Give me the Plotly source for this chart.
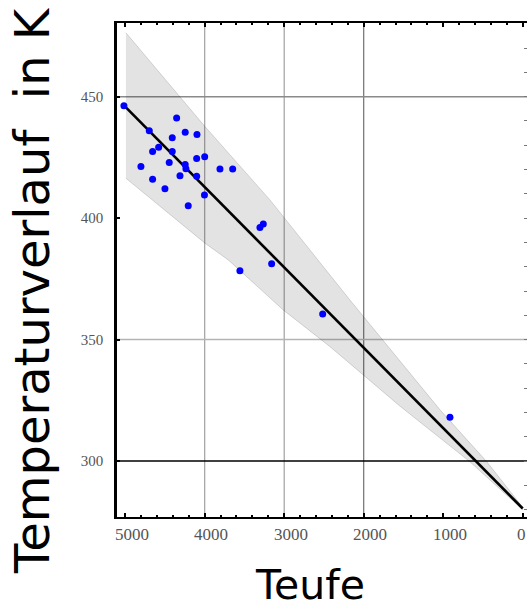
import plotly.graph_objects as go

# ---- data ----
depth_pts = [5016, 4353, 4697, 4245, 4097, 4408, 4579, 4655, 4408, 4802,
             4446, 4101, 4000, 4245, 4236, 3808, 3648, 4655, 4311, 4101,
             4500, 4003, 4207, 3263, 3305, 3158, 3557, 2516, 915]
temp_pts = [446.2, 441.2, 436.0, 435.3, 434.4, 433.1, 429.2, 427.4, 427.4, 421.2,
            422.9, 424.5, 425.3, 422.1, 420.3, 420.2, 420.2, 416.0, 417.4, 417.2,
            412.1, 409.5, 405.1, 397.6, 396.1, 381.2, 378.3, 360.5, 318.1]

fit_depth = [5016, 0]
fit_temp = [446.4, 280.5]

band_upper_depth = [4991, 3997, 3179, 2173, 1040, 453, 0]
band_upper = [476.3, 437.7, 407.5, 366.3, 321.1, 299.8, 281.0]
band_lower_depth = [4991, 3997, 3704, 3012, 2424, 1543, 667, 0]
band_lower = [416.4, 389.7, 382.8, 362.2, 347.1, 322.6, 299.8, 280.0]

x_ticks = [5000, 4000, 3000, 2000, 1000, 0]
y_ticks = [300, 350, 400, 450]
grid_depths = [4000, 3000, 2000]
grid_depth_colors = ["#a0a0a0", "#a0a0a0", "#707070"]
grid_temps = [450, 350, 300]
grid_temp_colors = ["#8a8a8a", "#b4b4b4", "#000000"]

x_title = "Teufe"
y_title = "Temperaturverlauf  in K"

# ---- figure ----
fig = go.Figure()

poly_x = band_upper_depth + band_lower_depth[::-1]
poly_y = band_upper + band_lower[::-1]
fig.add_trace(go.Scatter(x=poly_x, y=poly_y, fill="toself", mode="lines",
                         fillcolor="rgba(0,0,0,0.11)",
                         line=dict(color="rgba(0,0,0,0.18)", width=0.8),
                         hoverinfo="skip", showlegend=False))
fig.add_trace(go.Scatter(x=fit_depth, y=fit_temp, mode="lines",
                         line=dict(color="black", width=2.6),
                         showlegend=False))
fig.add_trace(go.Scatter(x=depth_pts, y=temp_pts, mode="markers",
                         marker=dict(color="#0000ff", size=7),
                         showlegend=False))
# invisible trace for right-side tick axis
fig.add_trace(go.Scatter(x=[fit_depth[0]], y=[fit_temp[0]], yaxis="y2",
                         mode="markers", marker=dict(opacity=0),
                         hoverinfo="skip", showlegend=False))

for d, c in zip(grid_depths, grid_depth_colors):
    fig.add_shape(type="line", xref="x", yref="paper", x0=d, x1=d, y0=0, y1=1,
                  line=dict(color=c, width=1.2), layer="below")
for t, c in zip(grid_temps, grid_temp_colors):
    fig.add_shape(type="line", xref="paper", yref="y", x0=0, x1=1, y0=t, y1=t,
                  line=dict(color=c, width=1.5), layer="below")

annotations = []
# x tick labels (slightly offset to the right of their ticks, like the reference)
for v in x_ticks:
    annotations.append(dict(text=str(v), xref="x", yref="paper", x=v,
                            y=-(534 - 517) / 494, xanchor="center",
                            yanchor="middle", xshift=(6.5 if v != 0 else -1.5),
                            showarrow=False,
                            font=dict(family="Liberation Serif", size=17,
                                      color="#555555")))
annotations.append(dict(text=x_title, xref="paper", yref="paper",
                        x=(310 - 117) / 410, y=-(585 - 517) / 494,
                        xanchor="center", yanchor="middle", showarrow=False,
                        font=dict(family="DejaVu Sans", size=41, color="black")))
annotations.append(dict(text=y_title, xref="paper", yref="paper",
                        x=-(117 - 32) / 410, y=(517 - 291) / 494,
                        xanchor="center", yanchor="middle", textangle=-90,
                        showarrow=False,
                        font=dict(family="DejaVu Sans", size=48, color="black")))

yr = [277.0, 480.3]
fig.update_layout(
    width=527, height=609,
    margin=dict(l=117, r=0, t=23, b=92),
    paper_bgcolor="white", plot_bgcolor="white",
    xaxis=dict(range=[5103, -54], tickvals=x_ticks, showticklabels=False,
               showgrid=False, zeroline=False,
               showline=True, linecolor="black", linewidth=2, mirror="ticks",
               ticks="inside", ticklen=4, tickwidth=2, tickcolor="black",
               minor=dict(dtick=200, ticks="inside", ticklen=2, tickwidth=1.5,
                          tickcolor="black", showgrid=False)),
    yaxis=dict(range=yr, tickvals=y_ticks,
               showgrid=False, zeroline=False,
               showline=True, linecolor="black", linewidth=2.5,
               ticks="inside", ticklen=3, tickwidth=1.5, tickcolor="black",
               tickfont=dict(family="Liberation Serif", size=15, color="#555555"),
               ticklabelstandoff=8),
    yaxis2=dict(range=yr, overlaying="y", side="right", dtick=10, tick0=300,
                showgrid=False, zeroline=False, showline=False,
                ticks="inside", ticklen=3, tickwidth=1.2, tickcolor="#777777",
                showticklabels=False),
    annotations=annotations,
)

fig.write_html("out.html")
